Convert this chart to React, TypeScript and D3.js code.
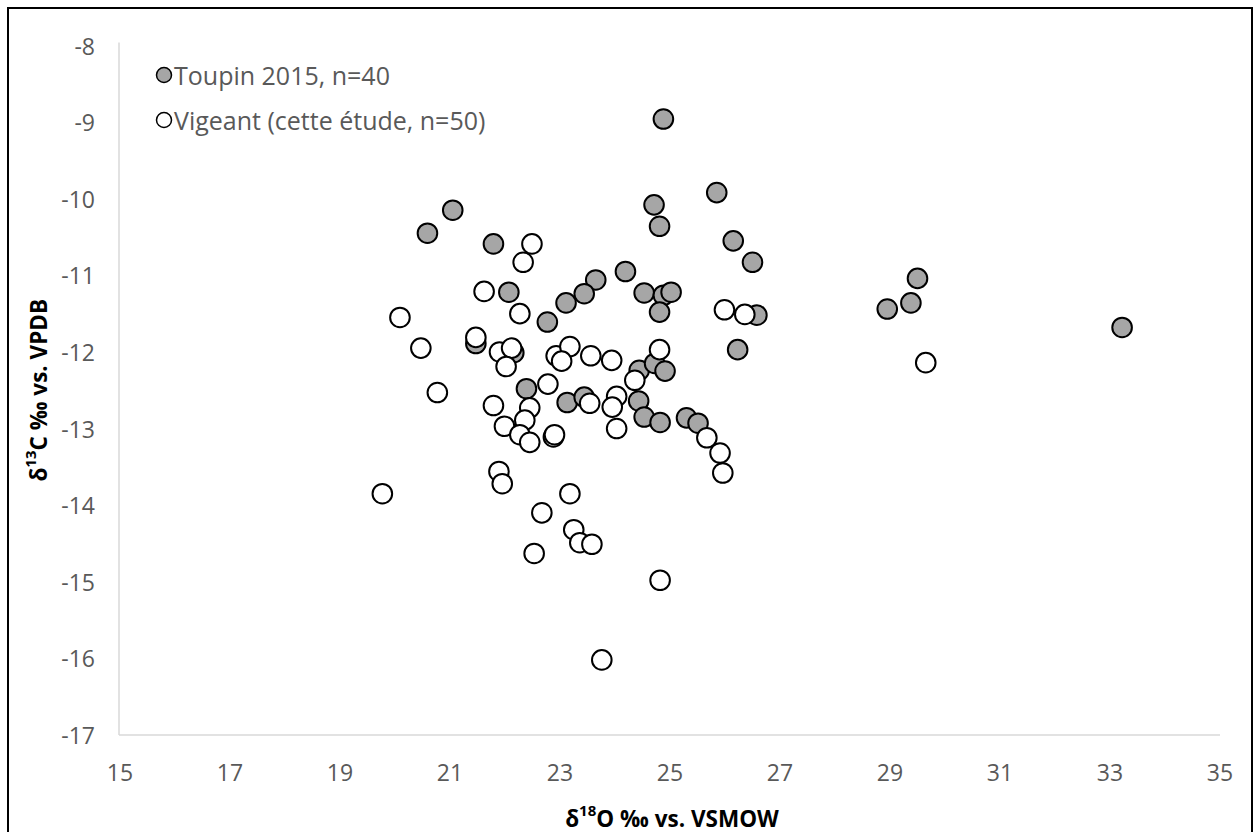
import React from "react";
import * as d3 from "d3";

// Toupin 2015 (n=40) — [δ18O, δ13C]
const toupinO = [21.05, 20.59, 21.79, 22.07, 23.65, 23.44, 23.11, 22.77, 24.19, 24.71, 24.81, 25.85, 26.15, 26.50, 24.53, 24.88, 25.02, 24.81, 26.58, 26.23, 21.47, 22.39, 24.44, 24.72, 24.91, 23.13, 23.44, 24.43, 24.53, 24.82, 25.30, 25.51, 24.88, 29.50, 29.38, 28.95, 33.22, 22.16];
const toupinC = [-10.15, -10.45, -10.59, -11.22, -11.06, -11.24, -11.36, -11.61, -10.95, -10.08, -10.36, -9.92, -10.55, -10.83, -11.23, -11.26, -11.22, -11.48, -11.52, -11.97, -11.89, -12.48, -12.24, -12.15, -12.25, -12.66, -12.59, -12.64, -12.85, -12.92, -12.86, -12.93, -8.96, -11.04, -11.36, -11.44, -11.68, -12.01];

// Vigeant (cette étude, n=50)
const vigeantO = [22.49, 22.33, 21.62, 22.27, 20.09, 20.47, 21.47, 21.90, 22.12, 22.02, 22.93, 23.18, 23.03, 23.56, 23.94, 24.81, 24.36, 22.78, 20.77, 21.79, 22.45, 22.36, 21.99, 22.27, 22.45, 22.88, 22.90, 23.54, 24.03, 23.95, 24.03, 25.99, 26.36, 25.67, 25.91, 25.96, 21.89, 21.95, 23.18, 22.67, 23.25, 23.36, 23.58, 22.53, 24.82, 23.76, 19.77, 29.65];
const vigeantC = [-10.59, -10.83, -11.21, -11.50, -11.55, -11.95, -11.81, -12.00, -11.95, -12.19, -12.05, -11.93, -12.12, -12.05, -12.11, -11.97, -12.37, -12.42, -12.53, -12.70, -12.73, -12.89, -12.97, -13.08, -13.18, -13.11, -13.08, -12.67, -12.58, -12.72, -13.00, -11.45, -11.51, -13.12, -13.32, -13.58, -13.56, -13.72, -13.85, -14.10, -14.32, -14.49, -14.51, -14.63, -14.98, -16.02, -13.85, -12.14];

const xTicks = [15, 17, 19, 21, 23, 25, 27, 29, 31, 33, 35];
const yTicks = [-8, -9, -10, -11, -12, -13, -14, -15, -16, -17];

const legendLabels = ["Toupin 2015, n=40", "Vigeant (cette étude, n=50)"];

const W = 1256;
const H = 832;
const FONT = "'Open Sans', 'DejaVu Sans', sans-serif";

export default function App() {
  const x = d3.scaleLinear().domain([15, 35]).range([120, 1220]);
  const y = d3.scaleLinear().domain([-17, -8]).range([735, 45.5]);

  const toupin = toupinO.map((o, i) => [o, toupinC[i]]);
  const vigeant = vigeantO.map((o, i) => [o, vigeantC[i]]);

  return (
    <svg
      width={W}
      height={H}
      style={{ position: "absolute", left: 0, top: 0, background: "#fff" }}
      fontFamily={FONT}
    >
      <rect x={0} y={0} width={W} height={H} fill="#fff" />
      <rect x={8} y={8} width={1244} height={840} fill="none" stroke="#000" strokeWidth={2} />

      {/* axes */}
      <line x1={x(15) - 1} x2={x(15) - 1} y1={y(-8) - 3} y2={y(-17)} stroke="#d9d9d9" strokeWidth={1.5} />
      <line x1={x(15) - 1} x2={x(35)} y1={y(-17)} y2={y(-17)} stroke="#d9d9d9" strokeWidth={1.5} />

      {yTicks.map((t) => (
        <text key={"y" + t} x={95} y={y(t)} textAnchor="end" dominantBaseline="central" fontSize={23} fill="#595959">
          {t}
        </text>
      ))}
      {xTicks.map((t) => (
        <text key={"x" + t} x={x(t)} y={772} textAnchor="middle" dominantBaseline="central" fontSize={23} fill="#595959">
          {t}
        </text>
      ))}

      {/* axis titles */}
      <text x={672} y={818} textAnchor="middle" dominantBaseline="central" fontSize={22.5} fontWeight="bold" fill="#000">
        δ<tspan dy={-8} fontSize={15}>18</tspan>
        <tspan dy={8}>O ‰ vs. VSMOW</tspan>
      </text>
      <text
        transform={`translate(38, ${(y(-8) + y(-17)) / 2}) rotate(-90)`}
        textAnchor="middle"
        dominantBaseline="central"
        fontSize={22.5}
        fontWeight="bold"
        fill="#000"
      >
        δ<tspan dy={-8} fontSize={15}>13</tspan>
        <tspan dy={8}>C ‰  vs. VPDB</tspan>
      </text>

      {/* points */}
      <g stroke="#000" strokeWidth={2}>
        {toupin.map((d, i) => (
          <circle key={"t" + i} cx={x(d[0])} cy={y(d[1])} r={9.8} fill="#a6a6a6" />
        ))}
        {vigeant.map((d, i) => (
          <circle key={"v" + i} cx={x(d[0])} cy={y(d[1])} r={9.8} fill="#fff" />
        ))}
      </g>

      {/* legend */}
      {legendLabels.map((lab, i) => (
        <g key={lab} transform={`translate(164, ${75 + i * 45})`}>
          <circle cx={0} cy={0} r={7.5} fill={i === 0 ? "#a6a6a6" : "#fff"} stroke="#000" strokeWidth={1.5} />
          <text x={10} y={0} dominantBaseline="central" fontSize={25} fill="#595959">
            {lab}
          </text>
        </g>
      ))}
    </svg>
  );
}
